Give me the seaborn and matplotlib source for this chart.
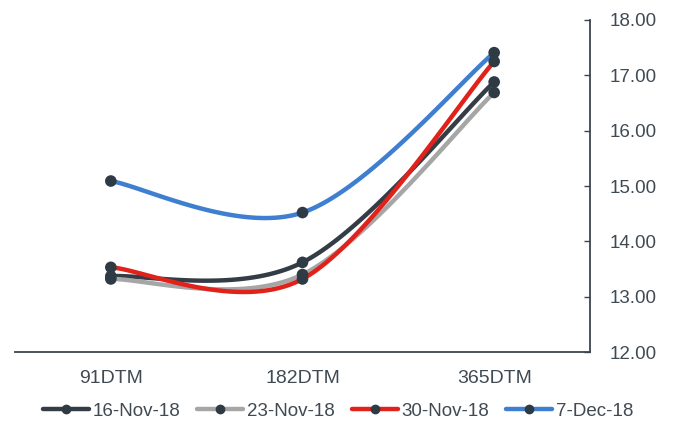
import numpy as np
import pandas as pd
import seaborn as sns
import matplotlib.pyplot as plt
from matplotlib.lines import Line2D

# T-bill yield curve by auction date
tenors = ['91DTM', '182DTM', '365DTM']
dates = ['16-Nov-18', '23-Nov-18', '30-Nov-18', '7-Dec-18']
y_16nov = [13.37, 13.62, 16.88]
y_23nov = [13.32, 13.40, 16.69]
y_30nov = [13.53, 13.32, 17.25]
y_7dec = [15.09, 14.52, 17.41]
colors = ['#343d46', '#a6a6a6', '#e0221b', '#3f7fcf']
marker_color = '#2e3a44'
text_color = '#404a53'

sns.set_theme(style='white')
plt.rcParams['font.family'] = ['Liberation Sans', 'DejaVu Sans']

df = pd.DataFrame({'tenor': tenors * 4,
                   'x': list(range(len(tenors))) * 4,
                   'date': np.repeat(dates, len(tenors)),
                   'yield': y_16nov + y_23nov + y_30nov + y_7dec})


def smooth(xs, ys, n=60):
    # Excel-style smoothed line: cubic bezier with catmull-rom tangents
    p = np.column_stack([xs, ys]).astype(float)
    ext = np.vstack([p[0], p, p[-1]])
    out = []
    for i in range(len(p) - 1):
        p0, p1 = p[i], p[i + 1]
        c1 = p0 + (ext[i + 2] - ext[i]) / 6
        c2 = p1 - (ext[i + 3] - ext[i + 1]) / 6
        t = np.linspace(0, 1, n)[:, None]
        seg = (1 - t) ** 3 * p0 + 3 * (1 - t) ** 2 * t * c1 + 3 * (1 - t) * t ** 2 * c2 + t ** 3 * p1
        out.append(seg if i == 0 else seg[1:])
    return np.vstack(out)


fig = plt.figure(figsize=(6.76, 4.23), dpi=100)
ax = fig.add_axes([15 / 676, 1 - 352 / 423, 575 / 676, 332 / 423])

for d, c in zip(dates, colors):
    sub = df[df['date'] == d]
    curve = smooth(sub['x'].values, sub['yield'].values)
    sns.lineplot(x=curve[:, 0], y=curve[:, 1], sort=False, color=c, lw=3.2, ax=ax)
sns.scatterplot(data=df, x='x', y='yield', color=marker_color, s=70, edgecolor='none',
                ax=ax, zorder=5, legend=False)

ax.set_xlim(-0.5, 2.5)
ax.set_ylim(12, 18)
ax.set_xticks(range(len(tenors)))
ax.set_xticklabels(tenors)
ax.set_yticks(np.arange(12, 18.1, 1))
ax.set_yticklabels([f'{v:.2f}' for v in np.arange(12, 18.1, 1)])
ax.yaxis.tick_right()
ax.set_xlabel('')
ax.set_ylabel('')
for s in ['top', 'left']:
    ax.spines[s].set_visible(False)
for s in ['bottom', 'right']:
    ax.spines[s].set_color('#3b4550')
    ax.spines[s].set_linewidth(1.3)
ax.tick_params(axis='x', direction='in', length=4, width=1, color='#3b4550',
               labelsize=14, labelcolor=text_color, pad=13)
ax.tick_params(axis='y', direction='in', length=4, width=1, color='#3b4550',
               labelsize=13.5, labelcolor=text_color, pad=14, right=True, left=False)

handles = [Line2D([], [], color=c, lw=3.2, marker='o', markersize=6,
                  markerfacecolor=marker_color, markeredgecolor=marker_color) for c in colors]
fig.legend(handles, dates, loc='center', bbox_to_anchor=(0.5, 1 - 411 / 423), ncol=4,
           frameon=False, fontsize=13.5, labelcolor=text_color, handlelength=2.45,
           handletextpad=0.2, columnspacing=0.9)

fig.savefig('out.png', dpi=100)
